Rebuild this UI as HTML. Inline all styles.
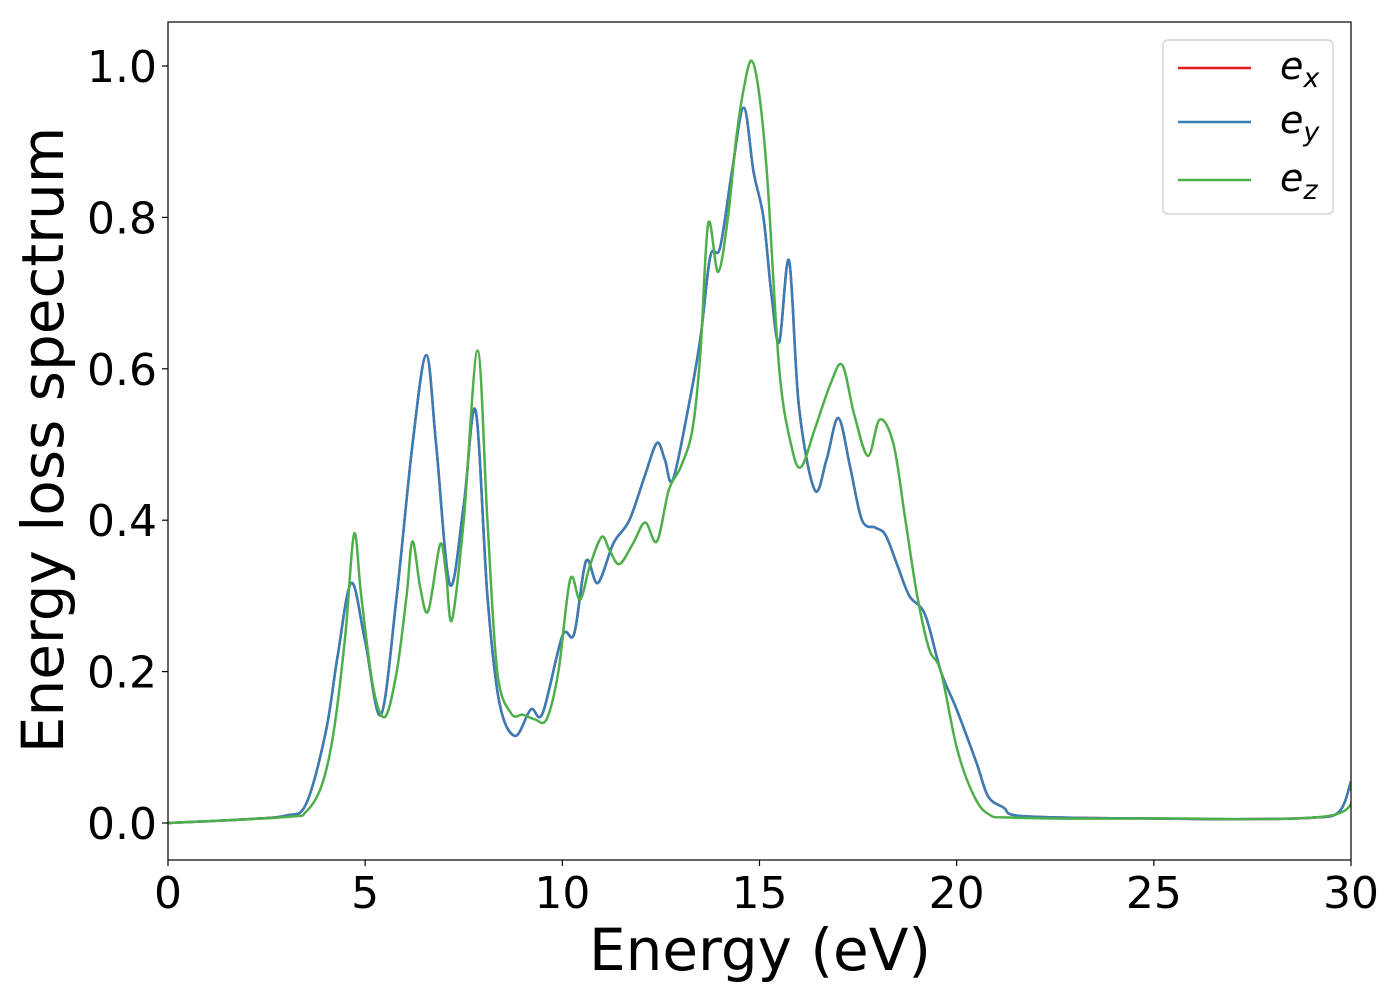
<!DOCTYPE html>
<html><head><meta charset="utf-8"><style>
body{margin:0;background:#fff;}
svg text{font-family:"DejaVu Sans","Liberation Sans",sans-serif;}
</style></head><body>
<svg width="1400" height="1000" xmlns="http://www.w3.org/2000/svg">
<g id="plot"></g>
</svg>
<script>
const xE = [0,2,3,3.5,4.0,4.3,4.65,5.0,5.4,5.8,6.2,6.55,6.8,7.15,7.5,7.8,8.1,8.4,8.8,9.2,9.5,10.0,10.3,10.6,10.9,11.3,11.7,12.1,12.4,12.6,12.8,13.2,13.5,13.75,14.0,14.3,14.6,14.85,15.1,15.3,15.5,15.75,16.0,16.4,16.7,17.0,17.3,17.6,17.95,18.2,18.5,18.8,19.2,19.6,20.0,20.5,20.8,21.2,21.5,23,25,27,29,29.7,30];
const yE = [0,0.005,0.01,0.025,0.12,0.22,0.317,0.24,0.143,0.3,0.5,0.618,0.5,0.315,0.42,0.545,0.3,0.16,0.115,0.15,0.145,0.247,0.25,0.346,0.317,0.37,0.4,0.46,0.502,0.48,0.453,0.55,0.64,0.748,0.76,0.86,0.945,0.86,0.8,0.7,0.635,0.743,0.55,0.44,0.48,0.535,0.47,0.4,0.39,0.38,0.34,0.3,0.275,0.2,0.15,0.08,0.035,0.02,0.01,0.007,0.006,0.005,0.007,0.015,0.055];
const xZ = [0,3,3.5,3.9,4.2,4.5,4.72,4.9,5.2,5.5,5.8,6.05,6.2,6.4,6.6,6.9,7.05,7.2,7.5,7.85,8.1,8.35,8.7,9.0,9.3,9.6,9.9,10.2,10.45,10.7,11.0,11.2,11.45,11.8,12.1,12.4,12.7,13.0,13.3,13.5,13.7,13.95,14.2,14.4,14.6,14.8,15.0,15.2,15.5,15.8,16.05,16.4,16.8,17.1,17.4,17.75,18.05,18.4,18.7,19.0,19.3,19.6,20.0,20.4,20.8,21.5,25,29.5,30];
const yZ = [0,0.008,0.015,0.05,0.12,0.25,0.382,0.3,0.18,0.14,0.2,0.3,0.372,0.31,0.28,0.368,0.33,0.268,0.4,0.624,0.4,0.2,0.145,0.143,0.137,0.137,0.2,0.322,0.295,0.34,0.378,0.36,0.342,0.37,0.397,0.372,0.44,0.47,0.52,0.62,0.792,0.728,0.8,0.9,0.97,1.007,0.96,0.85,0.6,0.5,0.47,0.52,0.58,0.605,0.54,0.485,0.533,0.5,0.4,0.3,0.23,0.2,0.1,0.04,0.012,0.007,0.006,0.01,0.055];
const xTicks = [0,5,10,15,20,25,30];
const yTicks = [0.0,0.2,0.4,0.6,0.8,1.0];

const L=168,R=1351,T=22,B=860;
const sx=v=>L+(v-0)/30*(R-L);
const sy=v=>823-v*757;
const NS='http://www.w3.org/2000/svg';
const g=document.getElementById('plot');
function mk(tag,attrs,parent){const e=document.createElementNS(NS,tag);for(const k in attrs)e.setAttribute(k,attrs[k]);(parent||g).appendChild(e);return e;}
function pathD(xs,ys){
  const p=xs.map((x,i)=>[sx(x),sy(ys[i])]);
  let d='M'+p[0][0]+','+p[0][1];
  for(let i=0;i<p.length-1;i++){
    const p0=p[Math.max(i-1,0)],p1=p[i],p2=p[i+1],p3=p[Math.min(i+2,p.length-1)];
    const c1=[p1[0]+(p2[0]-p0[0])/6,p1[1]+(p2[1]-p0[1])/6];
    const c2=[p2[0]-(p3[0]-p1[0])/6,p2[1]-(p3[1]-p1[1])/6];
    d+=' C'+c1[0]+','+c1[1]+' '+c2[0]+','+c2[1]+' '+p2[0]+','+p2[1];
  }
  return d;
}
const clip=mk('clipPath',{id:'c'});mk('rect',{x:L,y:T,width:R-L,height:B-T},clip);
const lr=mk('path',{d:pathD(xE,yE),fill:'none',stroke:'#e41a1c','stroke-width':2.5,'clip-path':'url(#c)'});


const lb=mk('path',{d:pathD(xE,yE),fill:'none',stroke:'#377eb8','stroke-width':2.5,'clip-path':'url(#c)'});


const lz=mk('path',{d:pathD(xZ,yZ),fill:'none',stroke:'#4daf4a','stroke-width':2.5,'clip-path':'url(#c)'});


const fr=mk('rect',{x:L,y:T,width:R-L,height:B-T,fill:'none',stroke:'#000','stroke-width':1.2});


xTicks.forEach(t=>{
  mk('line',{x1:sx(t),x2:sx(t),y1:B,y2:B+6,stroke:'#000','stroke-width':1.2});
  const tx=mk('text',{x:sx(t),y:908,'font-size':44,'text-anchor':'middle'});tx.textContent=t;
  
  
});
yTicks.forEach(t=>{
  mk('line',{x1:L-6,x2:L,y1:sy(t),y2:sy(t),stroke:'#000','stroke-width':1.2});
  const tx=mk('text',{x:157,y:sy(t)+16,'font-size':44,'text-anchor':'end'});tx.textContent=t.toFixed(1);
  
  
});
const xl=mk('text',{x:760,y:970,'font-size':58,'text-anchor':'middle'});xl.textContent='Energy (eV)';


const yl=mk('text',{x:0,y:0,'font-size':58,'text-anchor':'middle',transform:'translate(63,440) rotate(-90)'});yl.textContent='Energy loss spectrum';


const lg=mk('g',{});


mk('rect',{x:1163,y:40,width:170,height:174,rx:5,fill:'#fff',stroke:'#ccc','stroke-width':1.2},lg);
[['#e41a1c','x',68],['#377eb8','y',122],['#4daf4a','z',180]].forEach(([c,s,y])=>{
  mk('line',{x1:1178,x2:1251,y1:y,y2:y,stroke:c,'stroke-width':2.5},lg);
  const t=mk('text',{x:1280,y:y+11,'font-size':38,'font-style':'italic'},lg);
  t.innerHTML='e<tspan font-size="27" dy="8">'+s+'</tspan>';
  
  
});
</script>
</body></html>
